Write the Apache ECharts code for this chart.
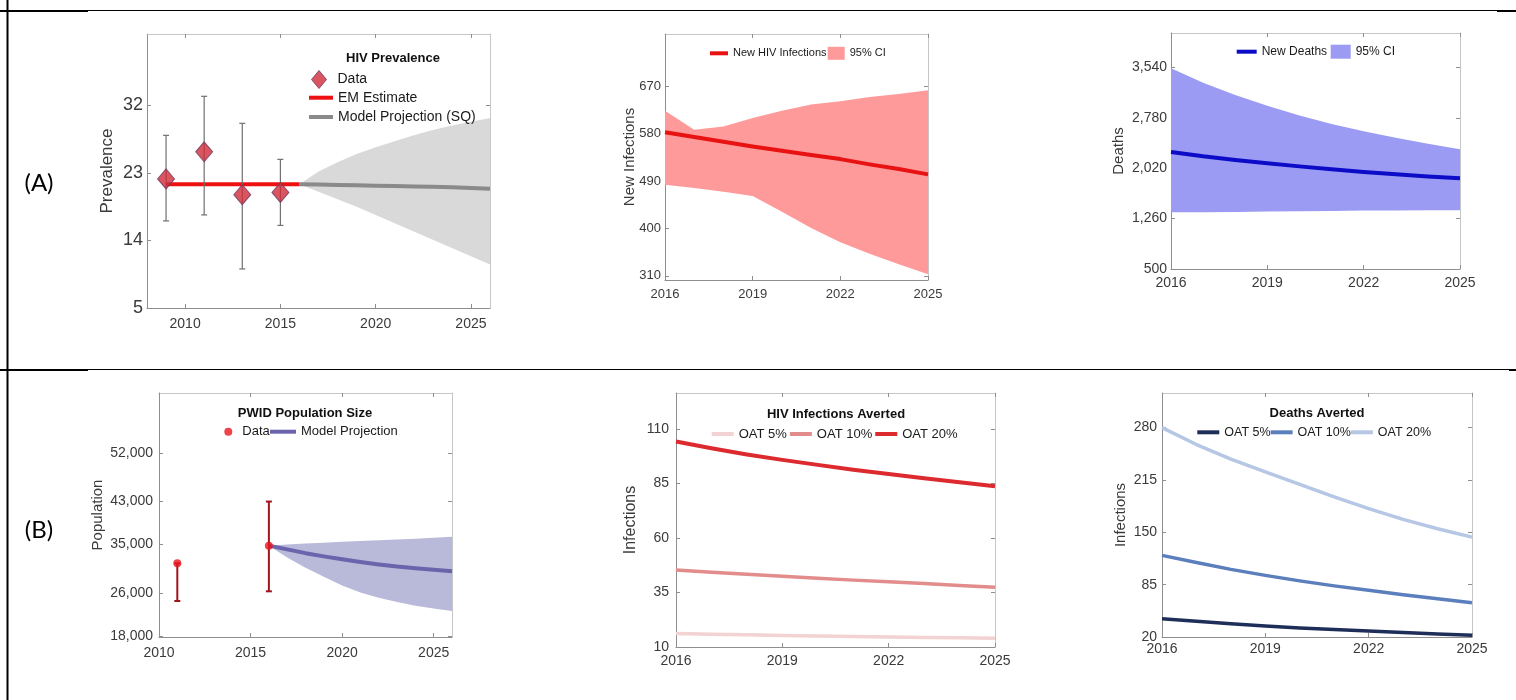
<!DOCTYPE html>
<html>
<head>
<meta charset="utf-8">
<script src="https://cdn.jsdelivr.net/npm/echarts@6/dist/echarts.min.js"></script>
<style>
  html, body { margin: 0; padding: 0; background: #fff; }
  #chart { width: 1516px; height: 700px; }
</style>
</head>
<body>
<div id="chart"></div>
<script>
// ---------- (A) HIV prevalence ----------
const prevSurveyYears = [2009, 2011, 2013, 2015];
const prevSurvey      = [22.2, 25.8, 20.1, 20.4];
const prevSurveyLow   = [16.6, 17.4, 10.2, 16.0];
const prevSurveyHigh  = [28.0, 33.2, 29.6, 24.8];
const emYears    = [2009, 2016];
const emEstimate = [21.5, 21.5];
const sqYears      = [2016, 2017, 2018, 2019, 2020, 2021, 2022, 2023, 2024, 2025, 2026];
const sqProjection = [21.5, 21.45, 21.4, 21.35, 21.3, 21.25, 21.2, 21.15, 21.1, 21.0, 20.9];
const sqUpper      = [21.5, 23.2, 24.4, 25.5, 26.4, 27.2, 28.0, 28.7, 29.3, 29.8, 30.3];
const sqLower      = [21.5, 20.5, 19.5, 18.5, 17.4, 16.3, 15.2, 14.1, 13.0, 11.9, 10.8];
const prevYTicks = [5, 14, 23, 32];
const prevXTicks = [2010, 2015, 2020, 2025];

// ---------- (A) new HIV infections ----------
const projYears     = [2016, 2017, 2018, 2019, 2020, 2021, 2022, 2023, 2024, 2025];
const newInfections = [583, 574, 565, 556, 548, 540, 532, 522, 513, 503];
const newInfUpper   = [624, 588, 594, 610, 624, 636, 642, 650, 656, 663];
const newInfLower   = [483, 477, 470, 462, 432, 401, 374, 352, 332, 313];
const newInfTicks   = [310, 400, 490, 580, 670];
const projXTicks    = [2016, 2019, 2022, 2025];

// ---------- (A) new deaths ----------
const newDeaths   = [2266, 2200, 2145, 2095, 2048, 2005, 1964, 1928, 1897, 1869];
const deathsUpper = [3530, 3310, 3125, 2962, 2815, 2688, 2578, 2480, 2390, 2306];
const deathsLower = [1355, 1357, 1360, 1366, 1371, 1376, 1381, 1383, 1385, 1386];
const deathTicks  = [500, 1260, 2020, 2780, 3540];

// ---------- (B) PWID population size ----------
const popSurveyYears = [2011, 2016];
const popSurvey      = [31500, 34800];
const popSurveyLow   = [24500, 26300];
const popSurveyHigh  = [31500, 43000];
const popYears      = [2016, 2017, 2018, 2019, 2020, 2021, 2022, 2023, 2024, 2025, 2026];
const popProjection = [34800, 34100, 33400, 32800, 32250, 31750, 31300, 30900, 30600, 30300, 30050];
const popUpper      = [34800, 35000, 35200, 35350, 35500, 35650, 35800, 35950, 36100, 36250, 36450];
const popLower      = [34800, 32600, 30700, 29000, 27400, 26100, 25100, 24300, 23600, 23100, 22660];
const popYTicks = [18000, 26000, 35000, 43000, 52000];
const popXTicks = [2010, 2015, 2020, 2025];

// ---------- (B) infections averted ----------
const avertedInf5  = [16.2, 15.9, 15.6, 15.3, 15.1, 14.8, 14.6, 14.4, 14.2, 14.0];
const avertedInf10 = [45.3, 44.3, 43.4, 42.5, 41.6, 40.7, 39.9, 39.1, 38.2, 37.4];
const avertedInf20 = [104.3, 101.2, 98.4, 95.9, 93.6, 91.4, 89.4, 87.5, 85.6, 83.8];
const avertedInfTicks = [10, 35, 60, 85, 110];

// ---------- (B) deaths averted ----------
const avertedDeaths5  = [42.8, 39.6, 36.5, 33.7, 31.2, 29.3, 27.5, 25.6, 23.8, 22.1];
const avertedDeaths10 = [121.4, 112.5, 104, 96.5, 89.7, 83.5, 78, 72.6, 67.4, 62.6];
const avertedDeaths20 = [280, 259, 241, 225, 209.5, 194, 179.5, 166, 154.5, 144];
const avertedDeathTicks = [20, 85, 150, 215, 280];

// ---------- styling ----------
const FONT = '"Liberation Sans", Arial, Helvetica, sans-serif';
const TICK_COLOR = '#3a3a3a';
const AXIS_DARK = '#8e8e8e';
const AXIS_LIGHT = '#c6c6c6';

const pairs = (xs, ys) => xs.map((x, i) => [x, ys[i]]);
const withCommas = v => String(v).replace(/\B(?=(\d{3})+(?!\d))/g, ',');

// Legend labels keyed by series name
const shownName = {
  'prevalence survey': 'Data',
  'EM Estimate': 'EM Estimate',
  'Model Projection (SQ)': 'Model Projection (SQ)',
  'New HIV Infections': 'New HIV Infections',
  'infections CI': '95% CI',
  'New Deaths': 'New Deaths',
  'deaths CI': '95% CI',
  'population survey': 'Data',
  'Model Projection': 'Model Projection',
  'inf OAT 5%': 'OAT 5%', 'inf OAT 10%': 'OAT 10%', 'inf OAT 20%': 'OAT 20%',
  'death OAT 5%': 'OAT 5%', 'death OAT 10%': 'OAT 10%', 'death OAT 20%': 'OAT 20%'
};

// Panel frames: grid box, axis ranges and label sizes
const panels = [
  { grid: {left: 147, top: 34, width: 343, height: 274}, xMin: 2008, xMax: 2026, xTicks: prevXTicks,
    yMin: 5, yMax: 41.5, yTicks: prevYTicks, xFont: 14, yFont: 18, xMargin: 9, yMargin: 4,
    yName: 'Prevalence', nameFont: 17, nameGap: 31, commas: false },
  { grid: {left: 665, top: 34, width: 263, height: 246}, xMin: 2016, xMax: 2025, xTicks: projXTicks,
    yMin: 302, yMax: 770, yTicks: newInfTicks, xFont: 13, yFont: 13, xMargin: 8, yMargin: 4,
    yName: 'New Infections', nameFont: 15, nameGap: 28, commas: false },
  { grid: {left: 1171, top: 33, width: 289, height: 236}, xMin: 2016, xMax: 2025, xTicks: projXTicks,
    yMin: 500, yMax: 4060, yTicks: deathTicks, xFont: 14, yFont: 14, xMargin: 7, yMargin: 4,
    yName: 'Deaths', nameFont: 15, nameGap: 45, commas: true },
  { grid: {left: 159, top: 393, width: 293, height: 244}, xMin: 2010, xMax: 2026, xTicks: popXTicks,
    yMin: 17800, yMax: 63200, yTicks: popYTicks, xFont: 14, yFont: 14, xMargin: 9, yMargin: 6,
    yName: 'Population', nameFont: 15, nameGap: 54, commas: true },
  { grid: {left: 676, top: 393, width: 319, height: 254}, xMin: 2016, xMax: 2025, xTicks: projXTicks,
    yMin: 10, yMax: 126.6, yTicks: avertedInfTicks, xFont: 14, yFont: 14, xMargin: 7, yMargin: 7,
    yName: 'Infections', nameFont: 16, nameGap: 37, commas: false },
  { grid: {left: 1162, top: 393, width: 310, height: 244}, xMin: 2016, xMax: 2025, xTicks: projXTicks,
    yMin: 20, yMax: 323, yTicks: avertedDeathTicks, xFont: 14, yFont: 14, xMargin: 5, yMargin: 5,
    yName: 'Infections', nameFont: 15, nameGap: 34, commas: false }
];

const grids = [], xAxes = [], yAxes = [];
panels.forEach((P, p) => {
  grids.push(Object.assign({containLabel: false, show: false}, P.grid));
  const tickStyle = c => ({show: true, inside: true, length: 4, lineStyle: {color: c, width: 1}});
  // bottom x axis with labels
  xAxes.push({
    gridIndex: p, type: 'value', position: 'bottom', min: P.xMin, max: P.xMax,
    axisLine: {show: true, onZero: false, lineStyle: {color: AXIS_DARK, width: 1}},
    axisTick: Object.assign(tickStyle(AXIS_DARK), {customValues: P.xTicks}),
    axisLabel: {show: true, customValues: P.xTicks, margin: P.xMargin, fontSize: P.xFont,
      fontFamily: FONT, color: TICK_COLOR, formatter: v => String(v)},
    splitLine: {show: false}
  });
  // top edge of the box
  xAxes.push({
    gridIndex: p, type: 'value', position: 'top', min: P.xMin, max: P.xMax,
    axisLine: {show: true, onZero: false, lineStyle: {color: AXIS_LIGHT, width: 1}},
    axisTick: Object.assign(tickStyle(AXIS_DARK), {customValues: P.xTicks}),
    axisLabel: {show: false}, splitLine: {show: false}
  });
  // left y axis with labels and name
  yAxes.push({
    gridIndex: p, type: 'value', position: 'left', min: P.yMin, max: P.yMax,
    name: P.yName, nameLocation: 'middle', nameGap: P.nameGap, nameRotate: 90, nameMoveOverlap: false,
    nameTextStyle: {fontSize: P.nameFont, fontFamily: FONT, color: TICK_COLOR},
    axisLine: {show: true, onZero: false, lineStyle: {color: AXIS_DARK, width: 1}},
    axisTick: Object.assign(tickStyle(AXIS_DARK), {customValues: P.yTicks}),
    axisLabel: {show: true, customValues: P.yTicks, margin: P.yMargin, fontSize: P.yFont,
      fontFamily: FONT, color: TICK_COLOR, formatter: v => P.commas ? withCommas(v) : String(v)},
    splitLine: {show: false}
  });
  // right edge of the box
  yAxes.push({
    gridIndex: p, type: 'value', position: 'right', min: P.yMin, max: P.yMax,
    axisLine: {show: true, onZero: false, lineStyle: {color: AXIS_LIGHT, width: 1}},
    axisTick: Object.assign(tickStyle(AXIS_DARK), {customValues: P.yTicks}),
    axisLabel: {show: false}, splitLine: {show: false}
  });
});

// Filled uncertainty band between lower and upper curves
function band(name, p, xs, lo, hi, color) {
  return {
    type: 'custom', name, xAxisIndex: 2 * p, yAxisIndex: 2 * p, silent: true, z: 1,
    itemStyle: {color},
    data: xs.map((x, i) => [x, lo[i], hi[i]]),
    encode: {x: 0, y: [1, 2]},
    renderItem: (params, api) => {
      if (params.dataIndex !== 0) return null;
      const pts = [];
      for (let i = 0; i < xs.length; i++) pts.push(api.coord([xs[i], hi[i]]));
      for (let i = xs.length - 1; i >= 0; i--) pts.push(api.coord([xs[i], lo[i]]));
      return {type: 'polygon', shape: {points: pts}, style: {fill: color}};
    }
  };
}

// Vertical error bars with caps
function errorBars(name, p, xs, lo, hi, color, width, cap) {
  return {
    type: 'custom', name, xAxisIndex: 2 * p, yAxisIndex: 2 * p, silent: true, z: 4,
    data: xs.map((x, i) => [x, lo[i], hi[i]]),
    encode: {x: 0, y: [1, 2]},
    renderItem: (params, api) => {
      const x = api.value(0);
      const top = api.coord([x, api.value(2)]);
      const bot = api.coord([x, api.value(1)]);
      const st = {stroke: color, lineWidth: width};
      return {type: 'group', children: [
        {type: 'line', shape: {x1: top[0], y1: top[1], x2: bot[0], y2: bot[1]}, style: st},
        {type: 'line', shape: {x1: top[0] - cap, y1: top[1], x2: top[0] + cap, y2: top[1]}, style: st},
        {type: 'line', shape: {x1: bot[0] - cap, y1: bot[1], x2: bot[0] + cap, y2: bot[1]}, style: st}
      ]};
    }
  };
}

function curve(name, p, xs, ys, color, width, z) {
  return {
    type: 'line', name, xAxisIndex: 2 * p, yAxisIndex: 2 * p, z: z || 3,
    data: pairs(xs, ys), showSymbol: false, symbol: 'none',
    smooth: false, silent: true,
    itemStyle: {color}, lineStyle: {color, width, cap: 'butt', join: 'round'}
  };
}

const series = [
  // (A) prevalence
  band('sq band', 0, sqYears, sqLower, sqUpper, '#d9d9d9'),
  curve('Model Projection (SQ)', 0, sqYears, sqProjection, '#8a8a8a', 4),
  curve('EM Estimate', 0, emYears, emEstimate, '#ee1111', 4),
  errorBars('prevalence range', 0, prevSurveyYears, prevSurveyLow, prevSurveyHigh, '#707070', 1.2, 3),
  {
    type: 'scatter', name: 'prevalence survey', xAxisIndex: 0, yAxisIndex: 0, z: 6, silent: true,
    data: pairs(prevSurveyYears, prevSurvey), symbol: 'diamond', symbolSize: [17, 20],
    itemStyle: {color: '#cf2a38', borderColor: '#6c3a62', borderWidth: 1}
  },
  // (A) new infections
  band('infections CI', 1, projYears, newInfLower, newInfUpper, '#fe9a9a'),
  curve('New HIV Infections', 1, projYears, newInfections, '#e81212', 4),
  // (A) new deaths
  band('deaths CI', 2, projYears, deathsLower, deathsUpper, '#9b9bf3'),
  curve('New Deaths', 2, projYears, newDeaths, '#0c0cc8', 4),
  // (B) population
  band('population band', 3, popYears, popLower, popUpper, '#b9b9da'),
  curve('Model Projection', 3, popYears, popProjection, '#6b64ac', 4),
  errorBars('population range', 3, popSurveyYears, popSurveyLow, popSurveyHigh, '#a0141e', 2, 3),
  {
    type: 'scatter', name: 'population survey', xAxisIndex: 6, yAxisIndex: 6, z: 6, silent: true,
    data: pairs(popSurveyYears, popSurvey), symbol: 'circle', symbolSize: 8,
    itemStyle: {color: '#e8141c'}
  },
  // (B) infections averted
  curve('inf OAT 5%', 4, projYears, avertedInf5, '#f2d2d2', 3.5),
  curve('inf OAT 10%', 4, projYears, avertedInf10, '#e38c8c', 3.5),
  curve('inf OAT 20%', 4, projYears, avertedInf20, '#dc2a2e', 4),
  // (B) deaths averted
  curve('death OAT 5%', 5, projYears, avertedDeaths5, '#1e2e58', 3.5),
  curve('death OAT 10%', 5, projYears, avertedDeaths10, '#5b7ebd', 3.5),
  curve('death OAT 20%', 5, projYears, avertedDeaths20, '#b5c7e4', 3.5)
];

function legend(names, left, top, opts) {
  return Object.assign({
    show: true, left, top, padding: 0, orient: 'horizontal', selectedMode: false,
    data: names, icon: 'rect', itemWidth: 22, itemHeight: 4, itemGap: 4,
    formatter: n => shownName[n] || n,
    itemStyle: {borderWidth: 0},
    textStyle: {fontFamily: FONT, fontSize: 13, color: '#1a1a1a', lineHeight: 14}
  }, opts || {});
}

const legends = [
  legend([{name: 'prevalence survey', icon: 'diamond'}], 311, 70,
    {itemWidth: 15, itemHeight: 18, itemStyle: {borderColor: '#6c3a62', borderWidth: 1},
     textStyle: {fontFamily: FONT, fontSize: 14, color: '#1a1a1a', lineHeight: 16, padding: [0, 0, 0, 6]}}),
  legend(['EM Estimate', 'Model Projection (SQ)'], 309, 89.7,
    {orient: 'vertical', itemWidth: 24, itemGap: 3.3,
     textStyle: {fontFamily: FONT, fontSize: 14, color: '#1a1a1a', lineHeight: 16}}),
  legend(['New HIV Infections'], 710, 46.3,
    {itemWidth: 18, textStyle: {fontFamily: FONT, fontSize: 11, color: '#1a1a1a', lineHeight: 14}}),
  legend(['infections CI'], 827.7, 46.3,
    {itemWidth: 17, itemHeight: 13, textStyle: {fontFamily: FONT, fontSize: 11, color: '#1a1a1a', lineHeight: 14}}),
  legend(['New Deaths'], 1236.7, 44.7,
    {itemWidth: 20, textStyle: {fontFamily: FONT, fontSize: 12, color: '#1a1a1a', lineHeight: 14}}),
  legend(['deaths CI'], 1330.7, 44.7,
    {itemWidth: 20, itemHeight: 14, textStyle: {fontFamily: FONT, fontSize: 12, color: '#1a1a1a', lineHeight: 14}}),
  legend([{name: 'population survey', icon: 'circle'}], 224.3, 424.7,
    {itemWidth: 8, itemHeight: 8,
     textStyle: {fontFamily: FONT, fontSize: 13, color: '#1a1a1a', lineHeight: 14, padding: [0, 0, 0, 5]}}),
  legend(['Model Projection'], 270, 424.7, {itemWidth: 26}),
  legend(['inf OAT 5%', 'inf OAT 10%', 'inf OAT 20%'], 711.7, 427, {itemWidth: 22, itemGap: 3}),
  legend(['death OAT 5%', 'death OAT 10%', 'death OAT 20%'], 1197.3, 425.3,
    {itemWidth: 22, itemGap: 0, textStyle: {fontFamily: FONT, fontSize: 12.5, color: '#1a1a1a', lineHeight: 14}})
];

const titleText = (text, x, y) => ({
  type: 'text', x, y, silent: true, z: 10,
  style: {text, fill: '#111', font: 'bold 13px ' + FONT, textAlign: 'center', textVerticalAlign: 'middle'}
});
const rowLabel = (text, x, y) => ({
  type: 'text', x, y, silent: true,
  style: {text, fill: '#000', font: '24px Lato, "Liberation Sans", sans-serif', textAlign: 'center', textVerticalAlign: 'middle'}
});
const rule = (x, y, w, h) => ({type: 'rect', silent: true, shape: {x, y, width: w, height: h}, style: {fill: '#000'}});

const graphics = [
  // table rules
  rule(6.5, 0, 2, 700),
  rule(0, 10, 1516, 1),
  rule(0, 10, 88, 2),
  rule(1497, 10, 19, 2),
  rule(0, 369, 1516, 1),
  rule(0, 369, 88, 2),
  rule(1509, 369, 7, 2),
  rowLabel('(A)', 39, 183),
  rowLabel('(B)', 39, 530),
  titleText('HIV Prevalence', 393, 58),
  titleText('PWID Population Size', 305, 413),
  titleText('HIV Infections Averted', 836, 414),
  titleText('Deaths Averted', 1317, 413)
];

const chart = echarts.init(document.getElementById('chart'), null, {renderer: 'canvas'});
chart.setOption({
  animation: false,
  backgroundColor: '#ffffff',
  grid: grids,
  xAxis: xAxes,
  yAxis: yAxes,
  legend: legends,
  series,
  graphic: graphics
});
</script>
</body>
</html>
